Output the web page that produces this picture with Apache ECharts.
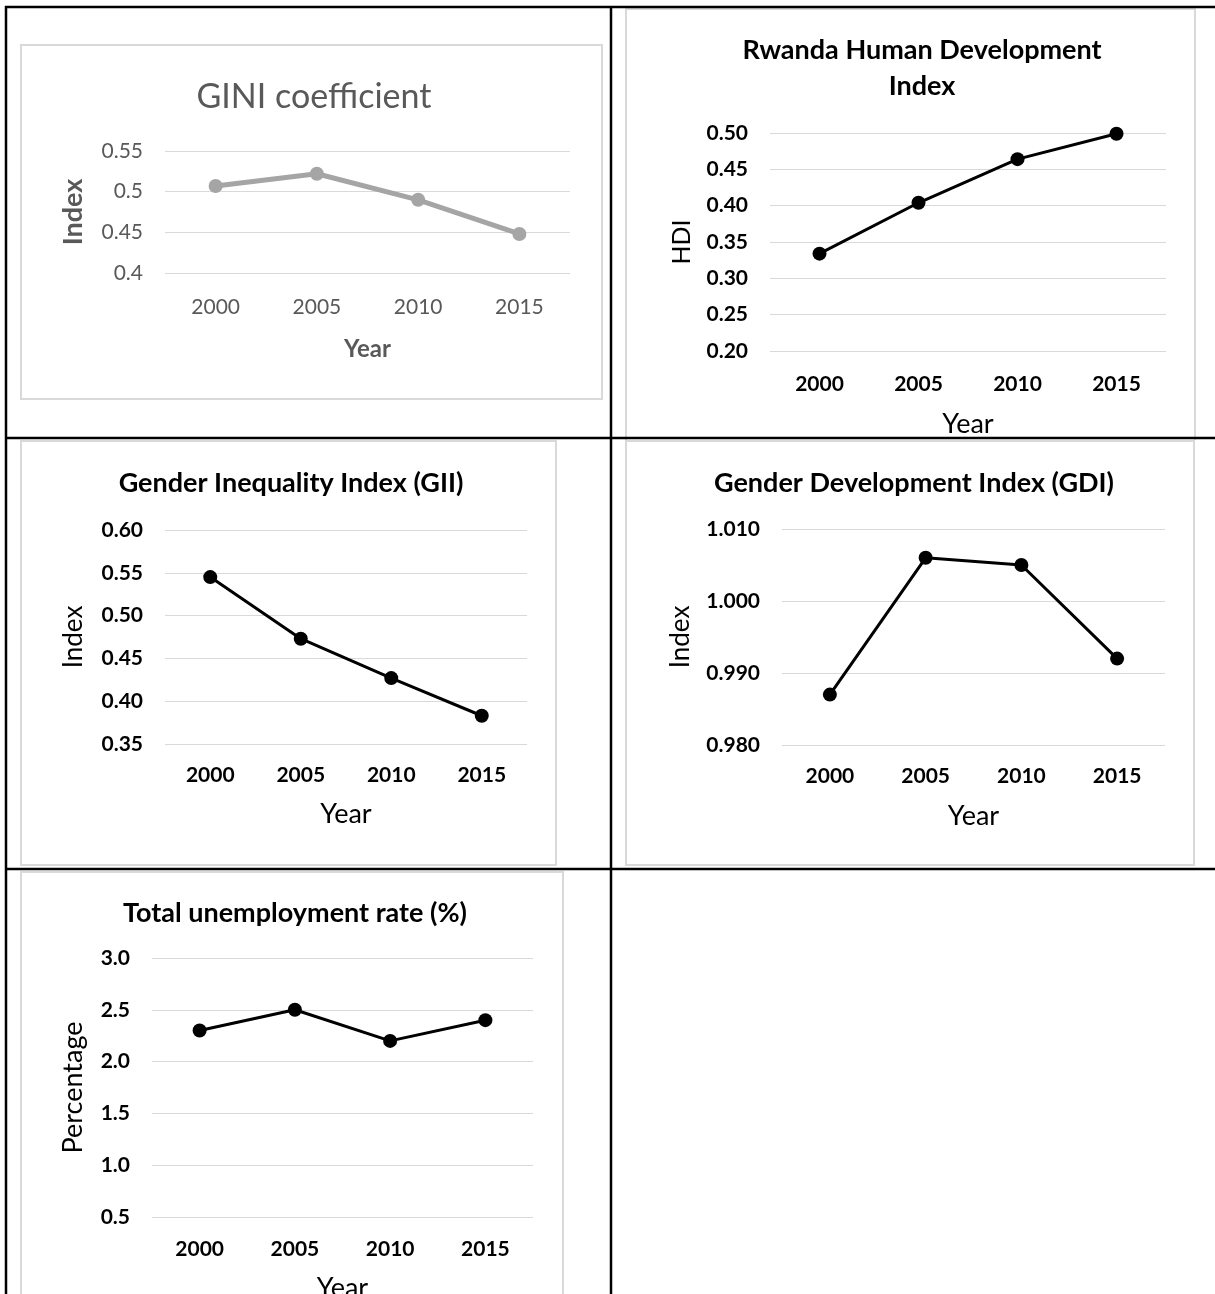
<!DOCTYPE html>
<html>
<head>
<meta charset="utf-8">
<script src="https://cdn.jsdelivr.net/npm/echarts@6/dist/echarts.min.js"></script>
<style>
  html, body { margin: 0; padding: 0; background: #fff; }
  #chart { width: 1215px; height: 1294px; }
</style>
</head>
<body>
<div id="chart"></div>
<script>
// ---- data ----
const years = ['2000', '2005', '2010', '2015'];
const giniValues = [0.507, 0.522, 0.490, 0.448];
const hdiValues = [0.334, 0.404, 0.464, 0.499];
const giiValues = [0.545, 0.473, 0.427, 0.383];
const gdiValues = [0.987, 1.006, 1.005, 0.992];
const unemploymentValues = [2.3, 2.5, 2.2, 2.4];

const giniTicks = [0.40, 0.55, 0.05];
const hdiTicks = [0.20, 0.50, 0.05];
const giiTicks = [0.35, 0.60, 0.05];
const gdiTicks = [0.980, 1.010, 0.010];
const unemploymentTicks = [0.5, 3.0, 0.5];

const titles = ['GINI coefficient', 'Rwanda Human Development\nIndex', 'Gender Inequality Index (GII)',
                'Gender Development Index (GDI)', 'Total unemployment rate (%)'];
const yNames = ['Index', 'HDI', 'Index', 'Index', 'Percentage'];
const xName = 'Year';

// ---- layout / style ----
const FONT = 'Lato';
const grids = [
  { left: 165, top: 151, width: 405, height: 122 },
  { left: 770, top: 133, width: 396, height: 218 },
  { left: 165, top: 530, width: 362, height: 214 },
  { left: 782, top: 529, width: 383, height: 216 },
  { left: 152, top: 958, width: 381, height: 259 }
];
const titlePos = [
  { x: 309, y: 74, size: 34, color: '#595959', weight: 'normal' },
  { x: 917, y: 27, size: 27, color: '#000', weight: 'bold' },
  { x: 286, y: 460, size: 27, color: '#000', weight: 'bold' },
  { x: 909, y: 460, size: 27, color: '#000', weight: 'bold' },
  { x: 290, y: 890, size: 27, color: '#000', weight: 'bold' }
];
const decimals = [null, 2, 2, 3, 1];
const xLabelMargin = [24, 23, 21, 21, 22];
const xNameGap = [64, 60, 57, 58, 58];
const yNameGap = [78, 76, 78, 88, 65];
const yNameSize = [27, 25, 26, 26, 27];
const tickSets = [giniTicks, hdiTicks, giiTicks, gdiTicks, unemploymentTicks];
const seriesData = [giniValues, hdiValues, giiValues, gdiValues, unemploymentValues];

const option = {
  animation: false,
  backgroundColor: '#fff',
  textStyle: { fontFamily: FONT },
  title: titles.map((t, i) => ({
    text: t,
    left: titlePos[i].x,
    top: titlePos[i].y,
    textAlign: 'center',
    textStyle: {
      fontFamily: FONT,
      fontSize: titlePos[i].size,
      fontWeight: titlePos[i].weight,
      color: titlePos[i].color,
      lineHeight: 36
    }
  })),
  grid: grids.map(g => Object.assign({ containLabel: false, outerBoundsMode: 'none' }, g)),
  xAxis: grids.map((g, i) => {
    const gini = i === 0;
    return {
      type: 'category',
      gridIndex: i,
      data: years,
      boundaryGap: true,
      axisLine: { show: false },
      axisTick: { show: false },
      axisLabel: {
        margin: xLabelMargin[i],
        fontFamily: FONT,
        fontSize: 21,
        fontWeight: gini ? 'normal' : 'bold',
        color: gini ? '#595959' : '#000'
      },
      name: xName,
      nameLocation: 'middle',
      nameGap: xNameGap[i],
      nameTextStyle: {
        fontFamily: FONT,
        fontSize: gini ? 24 : 27,
        fontWeight: gini ? 'bold' : 'normal',
        color: gini ? '#595959' : '#000'
      }
    };
  }),
  yAxis: grids.map((g, i) => {
    const gini = i === 0;
    const d = decimals[i];
    return {
      type: 'value',
      gridIndex: i,
      min: tickSets[i][0],
      max: tickSets[i][1],
      interval: tickSets[i][2],
      axisLine: { show: false },
      axisTick: { show: false },
      splitLine: { lineStyle: { color: '#d9d9d9', width: 1 } },
      axisLabel: {
        margin: 22,
        fontFamily: FONT,
        fontSize: 21,
        fontWeight: gini ? 'normal' : 'bold',
        color: gini ? '#595959' : '#000',
        formatter: d === null ? (v => String(+v.toFixed(2))) : (v => v.toFixed(d))
      },
      name: yNames[i],
      nameLocation: 'middle',
      nameRotate: 90,
      nameGap: yNameGap[i],
      nameTextStyle: {
        fontFamily: FONT,
        fontSize: yNameSize[i],
        fontWeight: gini ? 'bold' : 'normal',
        color: gini ? '#595959' : '#000'
      }
    };
  }),
  series: seriesData.map((d, i) => {
    const gini = i === 0;
    const c = gini ? '#a5a5a5' : '#000';
    return {
      type: 'line',
      xAxisIndex: i,
      yAxisIndex: i,
      data: d,
      symbol: 'circle',
      symbolSize: 14,
      lineStyle: { color: c, width: gini ? 5 : 3 },
      itemStyle: { color: c }
    };
  }),
  graphic: [
    // chart boxes (light gray)
    { type: 'rect', z: 1, shape: { x: 21, y: 45, width: 581, height: 354 }, style: { fill: null, stroke: '#d9d9d9', lineWidth: 2 } },
    { type: 'polyline', z: 1, shape: { points: [[626, 440], [626, 9], [1195, 9], [1195, 440]] }, style: { fill: null, stroke: '#d9d9d9', lineWidth: 2 } },
    { type: 'rect', z: 1, shape: { x: 21, y: 441, width: 535, height: 424 }, style: { fill: null, stroke: '#d9d9d9', lineWidth: 2 } },
    { type: 'rect', z: 1, shape: { x: 626, y: 441, width: 568, height: 424 }, style: { fill: null, stroke: '#d9d9d9', lineWidth: 2 } },
    { type: 'polyline', z: 1, shape: { points: [[21, 1300], [21, 872], [563, 872], [563, 1300]] }, style: { fill: null, stroke: '#d9d9d9', lineWidth: 2 } },
    // table borders (black)
    { type: 'line', z: 100, shape: { x1: 5, y1: 7, x2: 1215, y2: 7 }, style: { stroke: '#000', lineWidth: 2.5 } },
    { type: 'line', z: 100, shape: { x1: 6, y1: 6, x2: 6, y2: 1294 }, style: { stroke: '#000', lineWidth: 2.5 } },
    { type: 'line', z: 100, shape: { x1: 611, y1: 6, x2: 611, y2: 1294 }, style: { stroke: '#000', lineWidth: 2.5 } },
    { type: 'line', z: 100, shape: { x1: 5, y1: 438, x2: 1215, y2: 438 }, style: { stroke: '#000', lineWidth: 2.5 } },
    { type: 'line', z: 100, shape: { x1: 5, y1: 869, x2: 1215, y2: 869 }, style: { stroke: '#000', lineWidth: 2.5 } }
  ]
};

const chart = echarts.init(document.getElementById('chart'));
chart.setOption(option);
</script>
</body>
</html>
